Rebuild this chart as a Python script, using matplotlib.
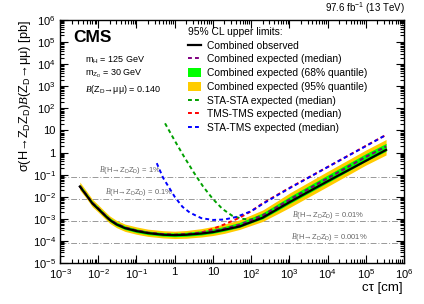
import numpy as np
import matplotlib
matplotlib.use('Agg')
import matplotlib.pyplot as plt
from matplotlib.lines import Line2D
from matplotlib.patches import Patch
from matplotlib.ticker import LogLocator, FixedLocator, FixedFormatter, NullFormatter

plt.rcParams['font.family'] = ['Liberation Sans', 'DejaVu Sans']
plt.rcParams['mathtext.fontset'] = 'custom'
plt.rcParams['mathtext.rm'] = 'Liberation Sans'
plt.rcParams['mathtext.it'] = 'Liberation Sans:italic'
plt.rcParams['mathtext.bf'] = 'Liberation Sans:bold'
plt.rcParams['mathtext.cal'] = 'Liberation Serif:italic'

# c*tau grid [cm] for the combined limits
ctau = [0.0033, 0.005, 0.007, 0.01, 0.015, 0.02, 0.03, 0.05, 0.1, 0.2, 0.5, 1,
        2, 5, 10, 20, 50, 100, 200, 500, 1e3, 1e4, 1e5, 3.4e5]

observed = [2.9e-2, 1.12e-2, 5.0e-3, 2.8e-3, 1.41e-3, 8.9e-4, 5.6e-4, 3.8e-4, 2.8e-4,
            2.25e-4, 1.9e-4, 1.82e-4, 1.9e-4, 2.15e-4, 2.5e-4, 3.2e-4, 4.5e-4, 7.1e-4,
            1.12e-3, 2.8e-3, 5.6e-3, 5.0e-2, 0.42, 1.32]
expected = [3.0e-2, 1.17e-2, 5.2e-3, 2.95e-3, 1.48e-3, 9.3e-4, 5.9e-4, 4.0e-4, 2.95e-4,
            2.35e-4, 2.0e-4, 1.9e-4, 2.0e-4, 2.35e-4, 2.8e-4, 3.6e-4, 5.4e-4, 8.7e-4,
            1.4e-3, 3.5e-3, 7.2e-3, 6.8e-2, 0.63, 1.86]
q68_lo = [2.45e-2, 9.6e-3, 4.3e-3, 2.4e-3, 1.21e-3, 7.6e-4, 4.8e-4, 3.3e-4, 2.4e-4,
          1.93e-4, 1.64e-4, 1.55e-4, 1.62e-4, 1.85e-4, 2.2e-4, 2.8e-4, 4.1e-4, 6.5e-4,
          1.0e-3, 2.4e-3, 4.8e-3, 4.3e-2, 0.40, 1.15]
q68_hi = [3.7e-2, 1.42e-2, 6.3e-3, 3.55e-3, 1.78e-3, 1.12e-3, 7.1e-4, 4.8e-4, 3.55e-4,
          2.8e-4, 2.4e-4, 2.3e-4, 2.45e-4, 2.9e-4, 3.5e-4, 4.5e-4, 6.9e-4, 1.13e-3,
          1.85e-3, 4.8e-3, 1.0e-2, 9.6e-2, 0.89, 2.6]
q95_lo = [2.0e-2, 8.0e-3, 3.5e-3, 2.0e-3, 1.0e-3, 6.3e-4, 4.0e-4, 2.7e-4, 2.0e-4,
          1.6e-4, 1.36e-4, 1.28e-4, 1.32e-4, 1.5e-4, 1.75e-4, 2.2e-4, 3.3e-4, 5.0e-4,
          7.6e-4, 1.7e-3, 3.2e-3, 2.9e-2, 0.27, 0.78]
q95_hi = [4.6e-2, 1.75e-2, 7.7e-3, 4.3e-3, 2.15e-3, 1.35e-3, 8.5e-4, 5.8e-4, 4.3e-4,
          3.4e-4, 2.9e-4, 2.75e-4, 2.95e-4, 3.6e-4, 4.5e-4, 5.8e-4, 9.0e-4, 1.5e-3,
          2.5e-3, 6.7e-3, 1.45e-2, 1.4e-1, 1.3, 3.9]

tms_tms = [3.0e-2, 1.17e-2, 5.2e-3, 2.95e-3, 1.48e-3, 9.3e-4, 5.9e-4, 4.0e-4, 2.95e-4,
           2.35e-4, 2.0e-4, 1.9e-4, 2.0e-4, 2.4e-4, 3.5e-4, 5.6e-4, 1.12e-3, 2.2e-3,
           5.0e-3, 1.26e-2, 2.5e-2, 0.22, 2.0, 6.3]

ctau_sta_tms = [0.34, 0.5, 1, 1.6, 2.5, 5, 10, 20, 40, 100, 200, 500, 1e3, 1e4, 1e5, 3.4e5]
sta_tms = [0.33, 7.1e-2, 1.0e-2, 3.5e-3, 1.9e-3, 1.07e-3, 8.9e-4, 9.3e-4, 1.2e-3, 2.2e-3,
           4.7e-3, 1.2e-2, 2.4e-2, 0.22, 1.95, 6.3]

ctau_sta_sta = [0.56, 1, 1.78, 3.16, 5.62, 10, 17.8, 31.6, 56.2, 100, 200, 500, 1e3,
                1e4, 1e5, 3.4e5]
sta_sta = [21, 3.5, 0.63, 0.126, 2.8e-2, 7.9e-3, 2.8e-3, 1.4e-3, 1.0e-3, 9.3e-4,
           1.45e-3, 3.6e-3, 7.4e-3, 7.0e-2, 0.65, 1.9]

# reference lines: B(H->ZDZD) values and the corresponding cross sections
br_labels = ['1%', '0.1%', '0.01%', '0.001%']
br_xsec = [7.7e-2, 7.7e-3, 7.7e-4, 7.7e-5]
br_label_x = [0.44, 0.91, 9.0e4, 1.15e5]

xticks = [1e-3, 1e-2, 1e-1, 1, 10, 1e2, 1e3, 1e4, 1e5, 1e6]
xticklabels = ['$10^{-3}$', '$10^{-2}$', '$10^{-1}$', '1', '10', '$10^{2}$', '$10^{3}$',
               '$10^{4}$', '$10^{5}$', '$10^{6}$']
yticks = [1e-5, 1e-4, 1e-3, 1e-2, 1e-1, 1, 10, 1e2, 1e3, 1e4, 1e5, 1e6]
yticklabels = ['$10^{-5}$', '$10^{-4}$', '$10^{-3}$', '$10^{-2}$', '$10^{-1}$', '1', '10',
               '$10^{2}$', '$10^{3}$', '$10^{4}$', '$10^{5}$', '$10^{6}$']

W, H = 424, 304
fig = plt.figure(figsize=(W / 100, H / 100), dpi=100)
ax = fig.add_axes([60 / W, 1 - 263 / H, 344 / W, 243 / H])

ax.set_xscale('log')
ax.set_yscale('log')
ax.set_xlim(1e-3, 1e6)
ax.set_ylim(1e-5, 1e6)

# reference lines
for b, y, xl in zip(br_labels, br_xsec, br_label_x):
    ax.axhline(y, color='#999999', lw=0.7, dashes=(6, 2, 1, 2), zorder=1)
    ax.text(xl, y * 1.08, r'$\mathcal{B}$(H→Z$_\mathrm{D}$Z$_\mathrm{D}$) = ' + b,
            ha='right', va='bottom', fontsize=5.5, color='#666666', zorder=1)

ax.fill_between(ctau, q95_lo, q95_hi, color='#ffcc00', lw=0, zorder=2)
ax.fill_between(ctau, q68_lo, q68_hi, color='#00ff00', lw=0, zorder=3)

dash = (2.0, 1.6)
ax.plot(ctau_sta_sta, sta_sta, color='#00a000', lw=1.4, dashes=dash, zorder=4)
ax.plot(ctau, tms_tms, color='#ff0000', lw=1.4, dashes=dash, zorder=4)
ax.plot(ctau_sta_tms, sta_tms, color='#0000ff', lw=1.4, dashes=dash, zorder=4)
ax.plot(ctau, expected, color='#800080', lw=1.4, dashes=dash, zorder=5)
ax.plot(ctau, observed, color='black', lw=1.6, zorder=6)

ax.xaxis.set_major_locator(FixedLocator(xticks))
ax.xaxis.set_major_formatter(FixedFormatter(xticklabels))
ax.xaxis.set_minor_locator(LogLocator(base=10, subs=np.arange(2, 10), numticks=20))
ax.xaxis.set_minor_formatter(NullFormatter())
ax.yaxis.set_major_locator(FixedLocator(yticks))
ax.yaxis.set_major_formatter(FixedFormatter(yticklabels))
ax.yaxis.set_minor_locator(LogLocator(base=10, subs=np.arange(2, 10), numticks=20))
ax.yaxis.set_minor_formatter(NullFormatter())
ax.tick_params(which='both', direction='in', top=True, right=True, width=0.8)
ax.tick_params(which='major', length=6, labelsize=8, pad=3)
ax.tick_params(which='minor', length=3)
for s in ax.spines.values():
    s.set_linewidth(1.0)

fig.text(25 / W, 1 - 20 / H,
         r'σ(H→Z$_\mathrm{D}$Z$_\mathrm{D}$)$\mathcal{B}$(Z$_\mathrm{D}$→μμ) [pb]',
         rotation=90, ha='center', va='top', fontsize=9.2)
fig.text(403 / W, 1 - 288 / H, 'cτ [cm]', ha='right', va='center', fontsize=9.5)
fig.text(405 / W, 1 - 8 / H, '97.6 fb$^{-1}$ (13 TeV)', ha='right', va='center', fontsize=7)
fig.text(73 / W, 1 - 38 / H, 'CMS', ha='left', va='center', fontsize=12.5, fontweight='bold')
fig.text(85 / W, 1 - 60 / H, r'm$_\mathrm{H}$ = 125 GeV', ha='left', va='center', fontsize=6.5)
fig.text(85 / W, 1 - 74 / H, r'm$_{\mathrm{Z}_\mathrm{D}}$ = 30 GeV', ha='left', va='center', fontsize=6.5)
fig.text(85 / W, 1 - 89 / H, r'$\mathcal{B}$(Z$_\mathrm{D}$→μμ) = 0.140', ha='left', va='center', fontsize=6.5)

handles = [
    Line2D([], [], color='black', lw=1.6),
    Line2D([], [], color='#800080', lw=1.4, dashes=dash),
    Patch(color='#00ff00', lw=0),
    Patch(color='#ffcc00', lw=0),
    Line2D([], [], color='#00a000', lw=1.4, dashes=dash),
    Line2D([], [], color='#ff0000', lw=1.4, dashes=dash),
    Line2D([], [], color='#0000ff', lw=1.4, dashes=dash),
]
labels = ['Combined observed', 'Combined expected (median)',
          'Combined expected (68% quantile)', 'Combined expected (95% quantile)',
          'STA-STA expected (median)', 'TMS-TMS expected (median)',
          'STA-TMS expected (median)']
leg = fig.legend(handles, labels, loc='upper left', bbox_to_anchor=(188 / W, 1 - 27 / H),
                 frameon=False, fontsize=7.4, title='95% CL upper limits:', title_fontsize=7.4,
                 handlelength=1.3, handleheight=0.9, handletextpad=0.55, labelspacing=0.36,
                 borderpad=0, borderaxespad=0, alignment='left')

fig.savefig('out.png', dpi=100)
